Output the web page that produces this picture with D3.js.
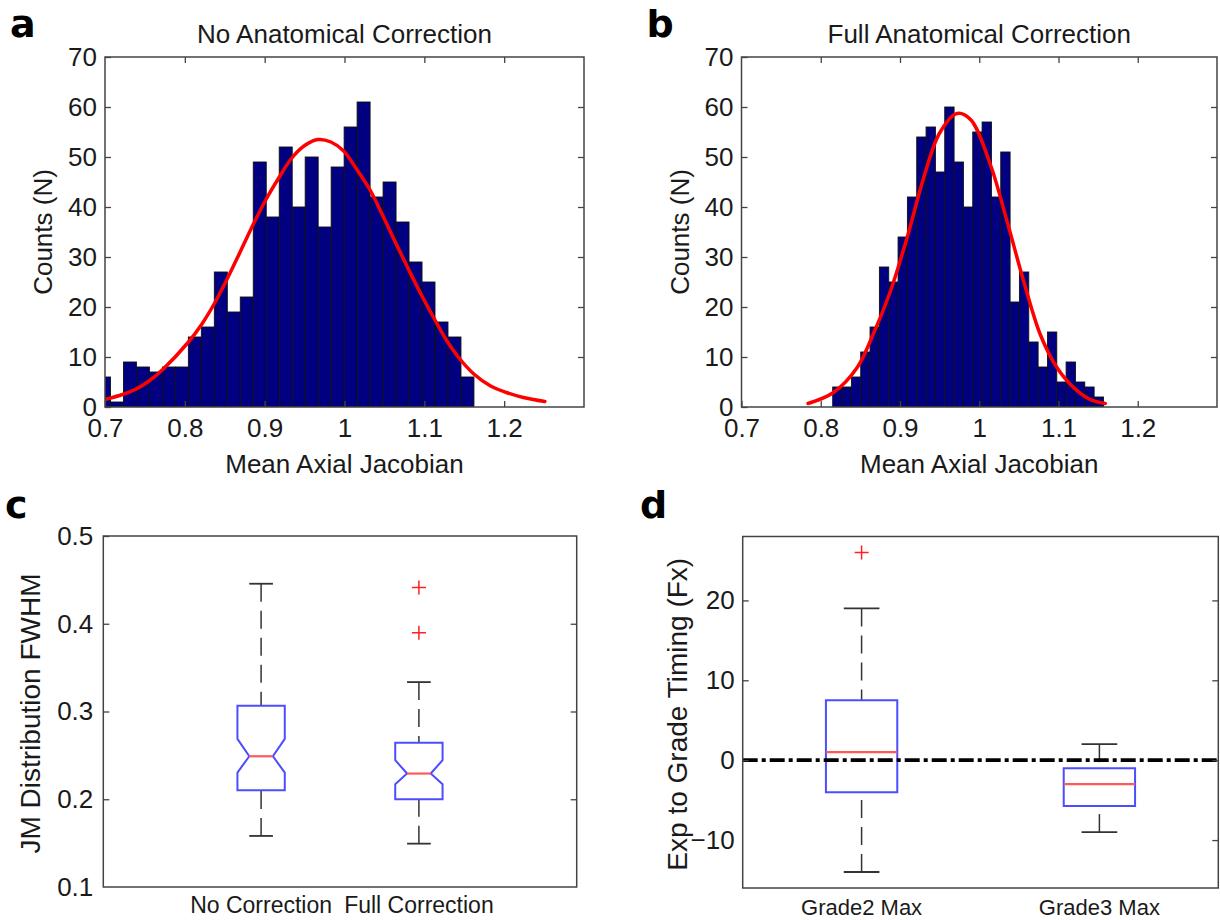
<!DOCTYPE html>
<html>
<head>
<meta charset="utf-8">
<script src="https://cdn.jsdelivr.net/npm/d3@7"></script>
<style>
body { margin: 0; background: #fff; }
svg text { font-family: "Liberation Sans", Arial, sans-serif; fill: #1a1a1a; }
.letter { font-family: "DejaVu Sans", sans-serif; font-weight: bold; font-size: 38px; fill: #000; }
</style>
</head>
<body>
<svg id="fig" width="1220" height="920"></svg>
<script>
// ---- panel a : no anatomical correction ----
var binStartA = 0.6906, binWidthA = 0.01626;
var countsA = [6, 1, 9, 8, 7, 8, 8, 14, 16, 27, 19, 22, 49, 38, 52, 40, 50, 36, 48, 56, 61, 42, 45, 37, 29, 25, 17, 14, 6];
var fitAX = [0.700, 0.722, 0.739, 0.756, 0.773, 0.804, 0.821, 0.837, 0.853, 0.869, 0.885, 0.902, 0.918, 0.934, 0.951, 0.967, 0.983, 0.999, 1.015, 1.032, 1.047, 1.063, 1.080, 1.097, 1.114, 1.128, 1.144, 1.162, 1.183, 1.203, 1.224, 1.251];
var fitAY = [1.5, 2.5, 3.6, 5.3, 7.6, 12.9, 16.5, 20.7, 25.6, 30.9, 36.3, 41.6, 45.9, 49.8, 52.4, 53.5, 53.0, 51.2, 47.6, 43.4, 38.6, 33.2, 27.6, 22.2, 17.2, 13.3, 9.7, 6.6, 4.2, 2.9, 1.9, 1.1];

// ---- panel b : full anatomical correction ----
var binStartB = 0.8151, binWidthB = 0.01178;
var countsB = [4, 4, 6, 11, 16, 28, 25, 34, 42, 54, 56, 47, 60, 49, 40, 55, 57, 42, 51, 21, 27, 13, 8, 15, 5, 9, 5, 4, 2];
var fitBX = [0.784, 0.816, 0.846, 0.866, 0.888, 0.909, 0.930, 0.950, 0.972, 0.989, 1.014, 1.035, 1.056, 1.077, 1.098, 1.119, 1.140, 1.159];
var fitBY = [0.7, 2.9, 7.9, 14.5, 23.2, 33.9, 45.9, 54.8, 58.7, 57.5, 48.5, 37.2, 25.2, 14.5, 7.9, 3.9, 1.5, 0.7];

var histXTicks = [0.7, 0.8, 0.9, 1, 1.1, 1.2];
var histYTicks = [0, 10, 20, 30, 40, 50, 60, 70];

// ---- panel c : FWHM boxplots ----
var cLabels = ["No Correction", "Full Correction"];
var cWhiskLo = [0.1582, 0.1494];
var cQ1 = [0.2103, 0.2000];
var cNotchLo = [0.2304, 0.2171];
var cMed = [0.2490, 0.2293];
var cNotchHi = [0.2688, 0.2445];
var cQ3 = [0.3065, 0.2643];
var cWhiskHi = [0.4456, 0.3335];
var cOutliers = [[], [0.4414, 0.3897]];
var cYTicks = [0.1, 0.2, 0.3, 0.4, 0.5];

// ---- panel d : timing boxplots ----
var dLabels = ["Grade2 Max", "Grade3 Max"];
var dWhiskLo = [-14, -9];
var dQ1 = [-4, -5.75];
var dMed = [1, -3];
var dQ3 = [7.5, -1];
var dWhiskHi = [19, 2];
var dOutliers = [[26], []];
var dYTicks = [-10, 0, 10, 20];

var svg = d3.select("#fig");
var frameCol = "#444";

function styleAxis(sel, size) {
	sel.attr("font-family", "Liberation Sans, Arial, sans-serif")
		.attr("font-size", size);
	sel.select(".domain").remove();
	sel.selectAll(".tick line").attr("stroke", frameCol).attr("stroke-width", 1.3);
	sel.selectAll(".tick text").attr("fill", "#1a1a1a");
}

function rotLabel(txt, x, y, size) {
	svg.append("text")
		.attr("transform", "translate(" + x + "," + y + ") rotate(-90)")
		.attr("text-anchor", "middle")
		.style("font-size", size + "px")
		.text(txt);
}

function histPanel(o) {
	var x = d3.scaleLinear().domain([0.7, 1.3]).range([o.left, o.right]);
	var y = d3.scaleLinear().domain([0, 70]).range([o.bottom, o.top]);
	var g = svg.append("g");

	g.append("clipPath").attr("id", o.id)
		.append("rect")
		.attr("x", o.left).attr("y", o.top)
		.attr("width", o.right - o.left).attr("height", o.bottom - o.top);

	var plot = g.append("g").attr("clip-path", "url(#" + o.id + ")");
	plot.selectAll("rect.bar")
		.data(o.counts)
		.join("rect")
		.attr("class", "bar")
		.attr("x", (d, i) => x(o.start + i * o.width))
		.attr("width", (d, i) => x(o.start + (i + 1) * o.width) - x(o.start + i * o.width))
		.attr("y", d => y(d))
		.attr("height", d => y(0) - y(d))
		.attr("fill", "#000080")
		.attr("stroke", "#111")
		.attr("stroke-width", 0.9);

	var line = d3.line()
		.x(d => x(d[0]))
		.y(d => y(d[1]))
		.curve(d3.curveCatmullRom);
	plot.append("path")
		.datum(d3.zip(o.fitX, o.fitY))
		.attr("d", line)
		.attr("fill", "none")
		.attr("stroke", "#ff0000")
		.attr("stroke-width", 3.5)
		.attr("stroke-linecap", "round");

	g.append("g").attr("transform", "translate(0," + o.bottom + ")")
		.call(d3.axisBottom(x).tickValues(histXTicks).tickFormat(d3.format("")).tickSizeInner(-6).tickSizeOuter(0).tickPadding(12))
		.call(s => styleAxis(s, 26));
	g.append("g").attr("transform", "translate(0," + o.top + ")")
		.call(d3.axisTop(x).tickValues(histXTicks.slice(1)).tickFormat("").tickSizeInner(-6).tickSizeOuter(0))
		.call(s => styleAxis(s, 26));
	g.append("g").attr("transform", "translate(" + o.left + ",0)")
		.call(d3.axisLeft(y).tickValues(histYTicks).tickSizeInner(-6).tickSizeOuter(0).tickPadding(8))
		.call(s => styleAxis(s, 26));
	g.append("g").attr("transform", "translate(" + o.right + ",0)")
		.call(d3.axisRight(y).tickValues(histYTicks.slice(1, -1)).tickFormat("").tickSizeInner(-6).tickSizeOuter(0))
		.call(s => styleAxis(s, 26));

	g.append("rect")
		.attr("x", o.left).attr("y", o.top)
		.attr("width", o.right - o.left).attr("height", o.bottom - o.top)
		.attr("fill", "none").attr("stroke", frameCol).attr("stroke-width", 1.5);

	svg.append("text")
		.attr("x", (o.left + o.right) / 2).attr("y", 43)
		.attr("text-anchor", "middle").style("font-size", "26px")
		.text(o.title);
	svg.append("text")
		.attr("x", (o.left + o.right) / 2).attr("y", 473)
		.attr("text-anchor", "middle").style("font-size", "26px")
		.text("Mean Axial Jacobian");
	rotLabel("Counts (N)", o.left - 53, (o.top + o.bottom) / 2, 26);
	svg.append("text").attr("class", "letter")
		.attr("x", o.left - 95).attr("y", 37).text(o.letter);
}

function boxPanel(o) {
	var x = d3.scaleLinear().domain(o.xDomain).range([o.left, o.right]);
	var y = d3.scaleLinear().domain(o.yDomain).range([o.bottom, o.top]);
	var g = svg.append("g");
	var half = x(0.15) - x(0), cap = x(0.075) - x(0);

	o.labels.forEach(function (lab, i) {
		var cx = x(i + 1);
		// whiskers, drawn from the cap towards the box
		[[o.whiskHi[i], o.q3[i]], [o.whiskLo[i], o.q1[i]]].forEach(function (w) {
			g.append("line")
				.attr("x1", cx).attr("x2", cx)
				.attr("y1", y(w[0])).attr("y2", y(w[1]))
				.attr("stroke", "#333").attr("stroke-width", 1.5)
				.attr("stroke-dasharray", "18,9");
			g.append("line")
				.attr("x1", cx - cap).attr("x2", cx + cap)
				.attr("y1", y(w[0])).attr("y2", y(w[0]))
				.attr("stroke", "#333").attr("stroke-width", 1.8);
		});

		var pts, medHalf = half;
		if (o.notchLo) {
			var ind = half - cap;
			medHalf = cap;
			pts = [[cx - half, y(o.q3[i])], [cx + half, y(o.q3[i])], [cx + half, y(o.notchHi[i])],
				[cx + half - ind, y(o.med[i])], [cx + half, y(o.notchLo[i])], [cx + half, y(o.q1[i])],
				[cx - half, y(o.q1[i])], [cx - half, y(o.notchLo[i])], [cx - half + ind, y(o.med[i])],
				[cx - half, y(o.notchHi[i])]];
		} else {
			pts = [[cx - half, y(o.q3[i])], [cx + half, y(o.q3[i])], [cx + half, y(o.q1[i])], [cx - half, y(o.q1[i])]];
		}
		g.append("path")
			.attr("d", "M" + pts.join("L") + "Z")
			.attr("fill", "none").attr("stroke", "#4d4dff").attr("stroke-width", 2);
		g.append("line")
			.attr("x1", cx - medHalf).attr("x2", cx + medHalf)
			.attr("y1", y(o.med[i])).attr("y2", y(o.med[i]))
			.attr("stroke", "#ff5a5a").attr("stroke-width", 2.2);

		o.outliers[i].forEach(function (v) {
			g.append("path")
				.attr("d", "M" + (cx - 7) + "," + y(v) + "H" + (cx + 7) + "M" + cx + "," + (y(v) - 7) + "V" + (y(v) + 7))
				.attr("stroke", "#ff2020").attr("stroke-width", 1.5);
		});

		svg.append("text")
			.attr("x", cx).attr("y", o.labelY)
			.attr("text-anchor", "middle").style("font-size", o.labelSize + "px")
			.text(lab);
	});

	if (o.zeroLine) {
		g.append("line")
			.attr("x1", o.left).attr("x2", o.right)
			.attr("y1", y(0)).attr("y2", y(0))
			.attr("stroke", "#000").attr("stroke-width", 3.8)
			.attr("stroke-dasharray", "15,4,4,4");
	}

	var inner = o.yTicks.filter(v => v > o.yDomain[0] && v < o.yDomain[1]);
	g.append("g").attr("transform", "translate(" + o.left + ",0)")
		.call(d3.axisLeft(y).tickValues(o.yTicks).tickFormat(d3.format("")).tickSizeInner(-6).tickSizeOuter(0).tickPadding(o.tickPad))
		.call(s => styleAxis(s, 26));
	g.select(".tick line").attr("stroke", "none");
	g.append("g").attr("transform", "translate(" + o.right + ",0)")
		.call(d3.axisRight(y).tickValues(inner).tickFormat("").tickSizeInner(-6).tickSizeOuter(0))
		.call(s => styleAxis(s, 26));

	g.append("rect")
		.attr("x", o.left).attr("y", o.top)
		.attr("width", o.right - o.left).attr("height", o.bottom - o.top)
		.attr("fill", "none").attr("stroke", frameCol).attr("stroke-width", 1.5);

	rotLabel(o.yTitle, o.yTitleX, (o.top + o.bottom) / 2 + 2, 28);
	svg.append("text").attr("class", "letter")
		.attr("x", o.letterX).attr("y", 518).text(o.letter);
}

histPanel({ id: "clipA", letter: "a", title: "No Anatomical Correction",
	left: 105, right: 584, top: 57, bottom: 407,
	start: binStartA, width: binWidthA, counts: countsA, fitX: fitAX, fitY: fitAY });
histPanel({ id: "clipB", letter: "b", title: "Full Anatomical Correction",
	left: 741.5, right: 1217, top: 57, bottom: 407,
	start: binStartB, width: binWidthB, counts: countsB, fitX: fitBX, fitY: fitBY });

boxPanel({ letter: "c", letterX: 5, left: 103.3, right: 576.7, top: 536, bottom: 887,
	xDomain: [0, 3], yDomain: [0.1, 0.5], yTicks: cYTicks, tickPad: 10,
	labels: cLabels, whiskLo: cWhiskLo, q1: cQ1, notchLo: cNotchLo, med: cMed, notchHi: cNotchHi,
	q3: cQ3, whiskHi: cWhiskHi, outliers: cOutliers,
	labelY: 913, labelSize: 23, yTitle: "JM Distribution FWHM", yTitleX: 40 });
boxPanel({ letter: "d", letterX: 640, left: 742.7, right: 1218.3, top: 536.5, bottom: 888,
	xDomain: [0.5, 2.5], yDomain: [-16, 28], yTicks: dYTicks, tickPad: 8,
	labels: dLabels, whiskLo: dWhiskLo, q1: dQ1, med: dMed, q3: dQ3, whiskHi: dWhiskHi, outliers: dOutliers,
	zeroLine: true, labelY: 915, labelSize: 22, yTitle: "Exp to Grade Timing (Fx)", yTitleX: 687 });
</script>
</body>
</html>
